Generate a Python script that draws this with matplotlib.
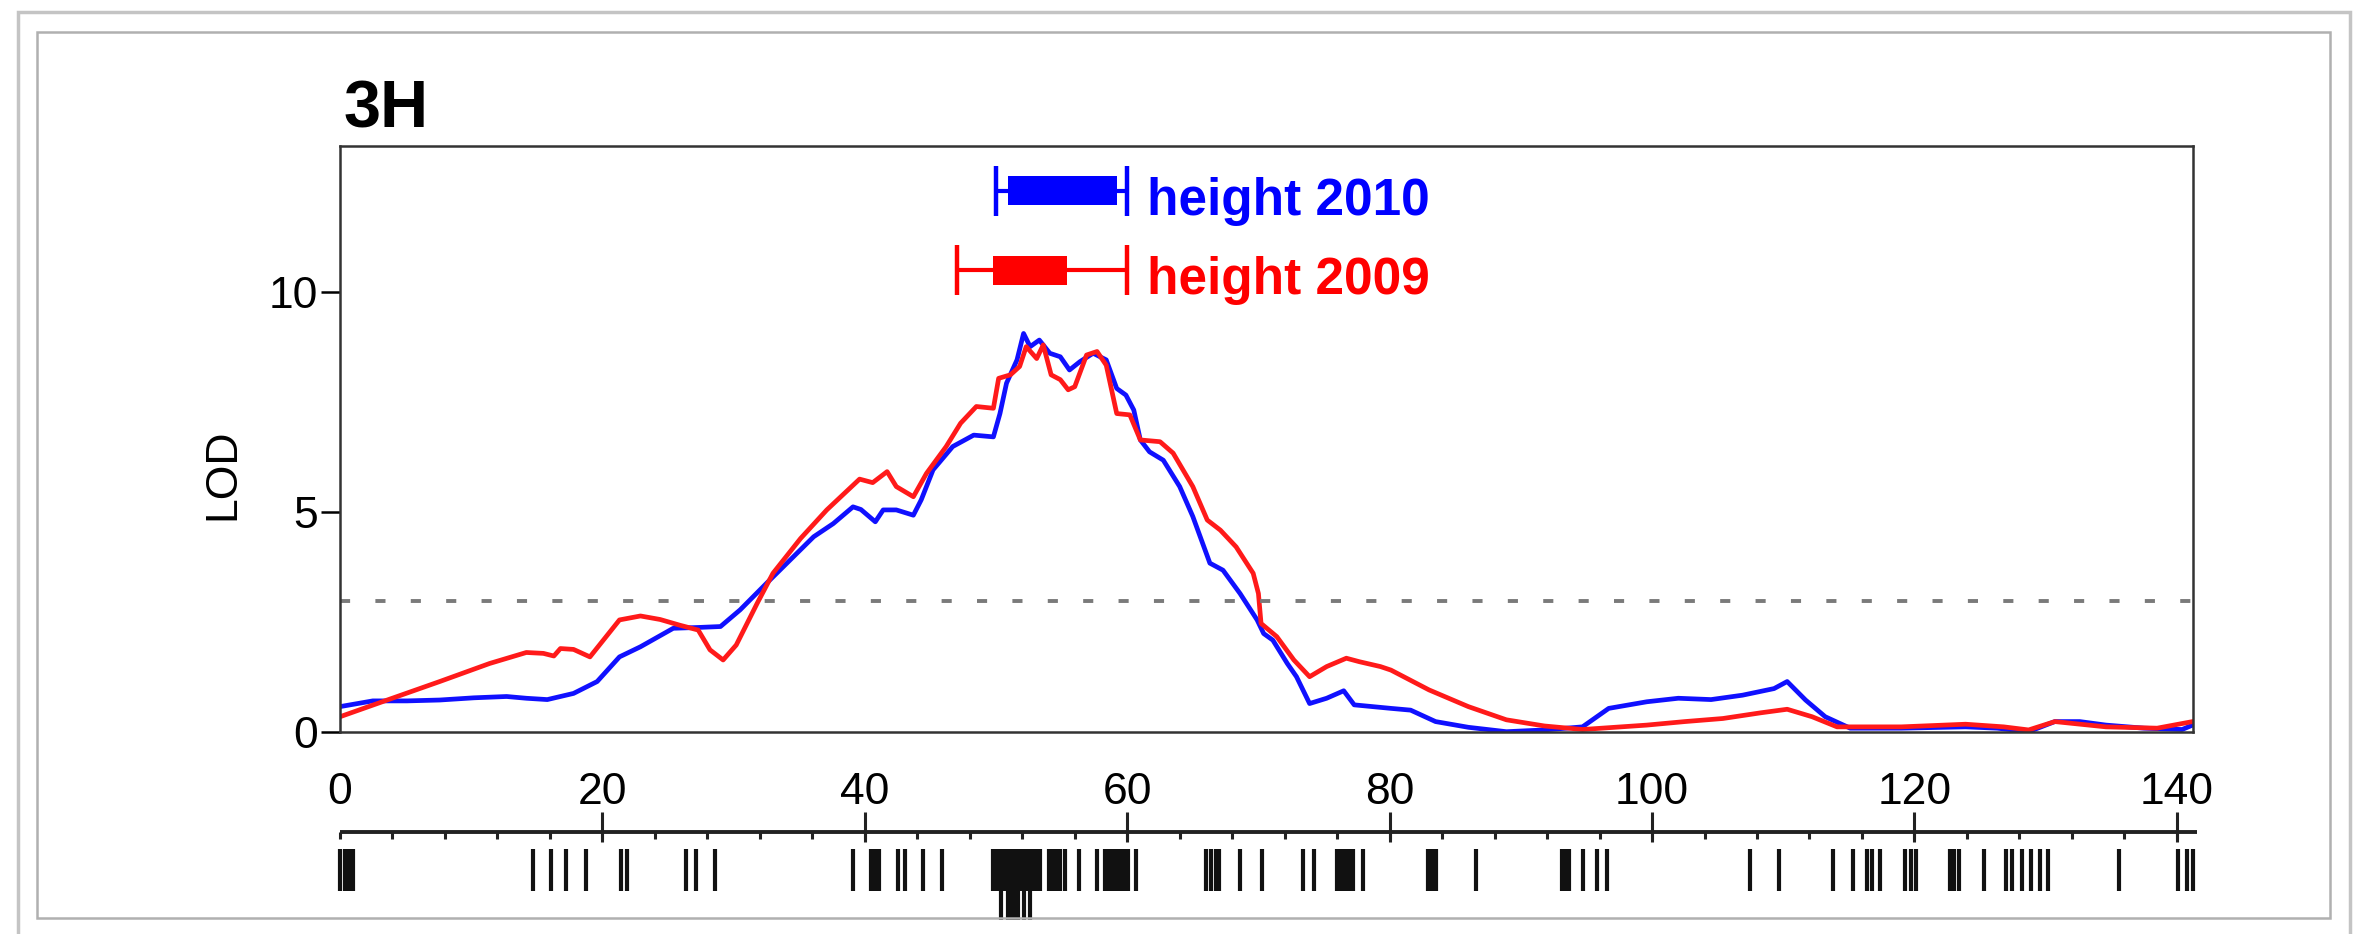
import numpy as np
import matplotlib
matplotlib.use('Agg')
import matplotlib.pyplot as plt
from matplotlib.patches import Rectangle

plt.rcParams['font.family'] = ['Liberation Sans', 'DejaVu Sans']

# LOD profiles along chromosome 3H (cM, LOD)
blue_cm = [0, 2.5, 5.1, 7.6, 10.2, 12.7, 14.2, 15.8, 17.8, 19.6, 21.3, 22.9, 25.4, 27.4,
           29.0, 30.5, 32.5, 34.3, 36.1, 37.6, 39.1, 39.7, 40.8, 41.4, 42.4, 43.7, 44.3,
           45.2, 46.7, 48.3, 49.8, 50.3, 50.8, 51.6, 52.1, 52.6, 53.3, 54.1, 54.9, 55.6,
           56.4, 57.4, 58.4, 59.2, 59.9, 60.5, 61.0, 61.7, 62.75, 64.0, 65.0, 66.3, 67.3,
           68.6, 69.9, 70.4, 71.1, 72.2, 72.9, 73.9, 75.2, 76.5, 77.3, 80.1, 81.6, 83.5,
           86.0, 88.9, 91.8, 94.7, 96.7, 99.6, 102.0, 104.5, 106.9, 109.3, 110.3, 111.7,
           113.2, 115.1, 119.0, 123.9, 126.3, 128.7, 130.7, 132.6, 134.6, 137.5, 140.4, 141.2]
blue_lod = [0.57, 0.70, 0.70, 0.72, 0.77, 0.80, 0.76, 0.73, 0.87, 1.14, 1.70, 1.93, 2.35, 2.37,
            2.39, 2.77, 3.37, 3.90, 4.43, 4.73, 5.11, 5.05, 4.77, 5.04, 5.04, 4.92, 5.27,
            5.95, 6.48, 6.74, 6.70, 7.23, 7.92, 8.45, 9.05, 8.75, 8.90, 8.60, 8.52, 8.22,
            8.41, 8.60, 8.45, 7.80, 7.65, 7.31, 6.63, 6.36, 6.17, 5.57, 4.89, 3.83, 3.67,
            3.14, 2.54, 2.23, 2.08, 1.55, 1.25, 0.64, 0.76, 0.93, 0.61, 0.53, 0.49, 0.23,
            0.10, 0.0, 0.04, 0.11, 0.53, 0.68, 0.76, 0.73, 0.83, 0.98, 1.14, 0.72,
            0.34, 0.08, 0.08, 0.11, 0.08, 0.0, 0.23, 0.23, 0.15, 0.08, 0.05, 0.15]

red_cm = [0, 3.6, 7.6, 11.4, 14.2, 15.5, 16.3, 16.8, 17.8, 19.05, 21.3, 22.9, 24.4, 25.9,
          27.3, 28.2, 29.2, 30.2, 31.8, 33.0, 35.1, 37.1, 39.6, 40.6, 41.7, 42.4, 43.7,
          44.7, 46.2, 47.3, 48.5, 49.8, 50.2, 51.1, 51.8, 52.3, 53.1, 53.6, 54.2, 54.9,
          55.5, 56.0, 56.9, 57.7, 58.4, 59.2, 60.2, 61.0, 62.5, 63.5, 65.0, 66.1, 67.1,
          68.3, 69.6, 70.0, 70.2, 71.4, 72.7, 73.9, 75.2, 76.7, 77.7, 79.3, 80.1, 83.0,
          86.0, 88.9, 91.8, 94.7, 99.6, 102.5, 105.4, 108.3, 110.3, 112.2, 114.1, 119.0,
          123.9, 126.8, 128.7, 130.7, 134.6, 138.5, 141.2]
red_lod = [0.34, 0.72, 1.14, 1.55, 1.80, 1.78, 1.72, 1.89, 1.87, 1.70, 2.54, 2.63, 2.55, 2.42,
           2.31, 1.86, 1.63, 1.97, 2.92, 3.60, 4.39, 5.04, 5.74, 5.66, 5.91, 5.57, 5.34,
           5.87, 6.48, 7.01, 7.39, 7.35, 8.03, 8.11, 8.30, 8.75, 8.48, 8.79, 8.11, 8.0,
           7.77, 7.84, 8.56, 8.64, 8.33, 7.23, 7.20, 6.63, 6.59, 6.33, 5.57, 4.81, 4.58,
           4.20, 3.60, 3.14, 2.46, 2.16, 1.63, 1.25, 1.48, 1.67, 1.59, 1.48, 1.40, 0.95,
           0.57, 0.27, 0.13, 0.05, 0.15, 0.23, 0.30, 0.43, 0.51, 0.34, 0.11, 0.11,
           0.17, 0.11, 0.04, 0.23, 0.11, 0.08, 0.23]

threshold = 2.97

# QTL support intervals: outer whiskers, inner box, LOD row
interval_labels = ['height 2010', 'height 2009']
interval_colors = ['#0000ff', '#ff0000']
outer_lo = [50.0, 47.0]
inner_lo = [50.95, 49.8]
inner_hi = [59.2, 55.4]
outer_hi = [60.0, 60.0]
interval_y = [12.29, 10.49]

# marker positions (cM)
markers = [0, 0.35, 0.7, 1.0, 14.7, 16.05, 17.2, 18.75, 21.4, 21.9, 26.4, 27.1, 28.6,
           39.1, 40.5, 40.8, 41.1, 42.55, 43.05, 44.4, 45.85,
           49.8, 50.1, 50.4, 50.7, 51.0, 51.3, 51.6, 51.9, 52.2, 52.5, 52.8, 53.1, 53.35,
           54.0, 54.3, 54.6, 54.9, 55.25, 56.35, 57.7, 58.3, 58.6, 58.9, 59.2, 59.5, 59.8,
           60.05, 60.7, 66.0, 66.4, 66.8, 67.0, 68.6, 70.3, 73.4, 74.2, 76.0, 76.3, 76.6,
           76.9, 77.2, 78.0, 82.9, 83.2, 83.5, 86.6, 93.1, 93.4, 93.7, 94.7, 95.8, 96.6,
           107.5, 109.7, 113.8, 115.3, 116.4, 116.8, 117.4, 119.3, 119.7, 120.1, 122.7,
           123.0, 123.4, 125.3, 127.0, 127.4, 128.2, 128.9, 129.6, 130.2, 135.6, 140.1,
           140.8, 141.2]
long_markers = [50.4, 50.9, 51.2, 51.45, 51.7, 52.1, 52.6]
chrom_len = 141.5

W, H = 2362, 934
fig = plt.figure(figsize=(W / 100, H / 100), dpi=100)


def px(x0, y0, x1, y1):
    """Figure fraction box from pixel edges (top-left origin)."""
    return [x0 / W, 1 - y1 / H, (x1 - x0) / W, (y1 - y0) / H]


# screenshot-like frames
outer = Rectangle((18 / W, -0.02), (2350 - 18) / W, 1 - 12 / H + 0.02,
                  transform=fig.transFigure, fill=False, ec='#c4c4c4', lw=2.5)
inner = Rectangle((37 / W, 1 - 918 / H), (2330 - 37) / W, (918 - 32) / H,
                  transform=fig.transFigure, fill=False, ec='#b0b0b0', lw=1.8)
fig.add_artist(outer)
fig.add_artist(inner)

ax = fig.add_axes(px(340, 146, 2193, 731.7))
ax.plot(blue_cm, blue_lod, color='#1010ff', lw=3.4)
ax.plot(red_cm, red_lod, color='#ff1a1a', lw=3.4)
ax.axhline(threshold, color='#7a7a7a', lw=2.8, ls=(0, (2.6, 6.5)))

for i in range(len(interval_labels)):
    c = interval_colors[i]
    y = interval_y[i]
    ax.plot([outer_lo[i], outer_hi[i]], [y, y], color=c, lw=3, solid_capstyle='butt')
    ax.vlines([outer_lo[i], outer_hi[i]], y - 0.56, y + 0.56, color=c, lw=3.2)
    ax.add_patch(Rectangle((inner_lo[i], y - 0.33), inner_hi[i] - inner_lo[i], 0.66,
                           color=c, lw=0))
    ax.text(61.5, y - 0.55, interval_labels[i], color=c, fontsize=37,
            fontweight='bold', va='baseline', ha='left')

ax.set_xlim(0, 141.23)
ax.set_ylim(0, 13.31)
ax.set_yticks([0, 5, 10])
ax.set_xticks(np.arange(0, 141, 20))
ax.tick_params(axis='y', length=14, width=1.8, pad=2, labelsize=32)
ax.tick_params(axis='x', length=0, pad=29, labelsize=32)
for s in ax.spines.values():
    s.set_linewidth(1.8)
    s.set_color('#333333')
ax.set_ylabel('LOD', fontsize=32)
ax.yaxis.set_label_coords(-0.052, 0.44)

fig.text(344 / W, 1 - 128 / H, '3H', fontsize=48, fontweight='bold', va='baseline')

# marker map strip below the profile
mx = fig.add_axes(px(340, 800, 2193, 930))
mx.set_xlim(0, 141.23)
mx.set_ylim(930, 800)
mx.axis('off')
mx.plot([0, chrom_len], [832, 832], color='#222222', lw=2.8, clip_on=False,
        solid_capstyle='butt')
minor = np.arange(0, chrom_len, 4)
mx.vlines(minor, 832, 839, color='#222222', lw=2.2, clip_on=False)
major = np.arange(20, chrom_len, 20)
mx.vlines(major, 812, 842, color='#222222', lw=2.2, clip_on=False)
mx.vlines(markers, 849, 891, color='#111111', lw=3.0, clip_on=False)
mx.vlines(long_markers, 849, 920, color='#111111', lw=3.0, clip_on=False)

plt.savefig('out.png', dpi=100)
